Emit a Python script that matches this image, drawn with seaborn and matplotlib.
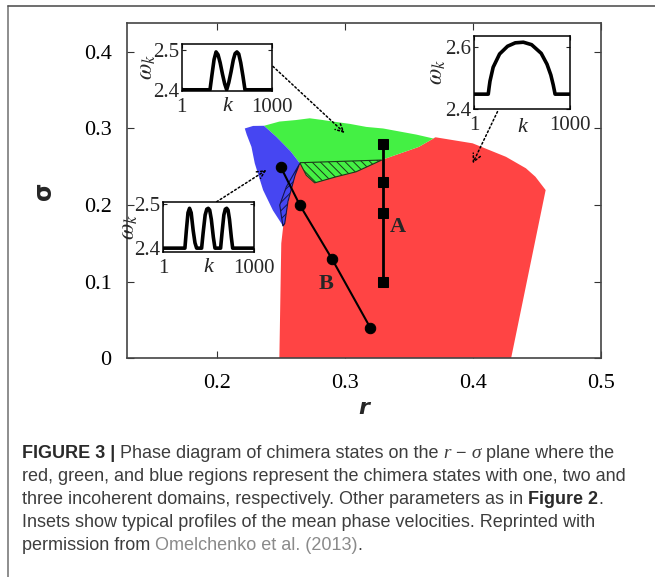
import numpy as np
import matplotlib
matplotlib.use('Agg')
from matplotlib import pyplot as plt
from matplotlib.lines import Line2D
import seaborn as sns

# regioes do diagrama de fases (r, sigma)
red_r = [0.249, 0.2505, 0.252, 0.256, 0.261, 0.266, 0.329, 0.358, 0.371, 0.400, 0.426, 0.4416, 0.449, 0.457, 0.430]
red_s = [0.0, 0.150, 0.172, 0.205, 0.240, 0.256, 0.259, 0.276, 0.2885, 0.2806, 0.263, 0.248, 0.237, 0.2196, 0.0]

green_r = [0.237, 0.249, 0.262, 0.2727, 0.283, 0.291, 0.304, 0.317, 0.330, 0.343, 0.356, 0.369, 0.371,
           0.358, 0.329, 0.265, 0.258, 0.2467]
green_s = [0.3035, 0.309, 0.311, 0.3133, 0.311, 0.309, 0.306, 0.302, 0.300, 0.296, 0.292, 0.287, 0.2885,
           0.276, 0.259, 0.2545, 0.2697, 0.289]

blue_r = [0.222, 0.2285, 0.237, 0.2467, 0.258, 0.265, 0.2613, 0.2557, 0.2532, 0.2518, 0.2506, 0.244,
          0.2363, 0.2298, 0.2272, 0.2235]
blue_s = [0.300, 0.3033, 0.3035, 0.289, 0.2697, 0.2545, 0.239, 0.2044, 0.176, 0.1725, 0.176, 0.193,
          0.2196, 0.2545, 0.276, 0.292]

green_hatch_r = [0.265, 0.329, 0.309, 0.2935, 0.2766, 0.270, 0.266]
green_hatch_s = [0.2553, 0.2588, 0.2435, 0.237, 0.229, 0.239, 0.252]

blue_hatch_r = [0.265, 0.2613, 0.2557, 0.2532, 0.2518, 0.2493, 0.2545]
blue_hatch_s = [0.2545, 0.239, 0.2044, 0.176, 0.1725, 0.200, 0.224]

# trajetorias A e B
line_a_r = [0.33, 0.33, 0.33, 0.33]
line_a_s = [0.28, 0.23, 0.19, 0.10]
line_b_r = [0.250, 0.265, 0.290, 0.320]
line_b_s = [0.250, 0.200, 0.130, 0.040]

# perfis dos insets (k, omega_k)
k_two = [1, 313, 335, 358, 380, 402, 425, 450, 475, 497, 520, 545, 570, 590, 610, 630, 652, 676, 699, 1000]
w_two = [2.4, 2.4, 2.438, 2.476, 2.495, 2.488, 2.468, 2.44, 2.415, 2.4, 2.418, 2.445, 2.475, 2.491, 2.495,
         2.49, 2.468, 2.435, 2.4, 2.4]
k_three = [1, 239, 255, 273, 290, 308, 330, 350, 368, 423, 440, 462, 480, 496, 512, 530, 552, 570,
           632, 648, 668, 684, 699, 714, 730, 750, 765, 1000]
w_three = [2.4, 2.4, 2.44, 2.48, 2.49, 2.48, 2.44, 2.412, 2.4, 2.4, 2.435, 2.475, 2.488, 2.49, 2.486, 2.465,
           2.425, 2.4, 2.4, 2.435, 2.475, 2.488, 2.49, 2.486, 2.465, 2.425, 2.4, 2.4]
k_one = [1, 149, 158, 167, 200, 267, 350, 430, 514, 600, 700, 760, 800, 825, 838, 844, 1000]
w_one = [2.448, 2.448, 2.47, 2.49, 2.535, 2.578, 2.603, 2.614, 2.616, 2.608, 2.58, 2.545, 2.51, 2.478,
         2.458, 2.448, 2.448]

x_ticks = [0.2, 0.3, 0.4, 0.5]
y_ticks = [0, 0.1, 0.2, 0.3, 0.4]

sns.set_style('ticks')
plt.rcParams['font.family'] = ['Liberation Serif', 'DejaVu Serif']
plt.rcParams['mathtext.fontset'] = 'stix'
plt.rcParams['hatch.linewidth'] = 0.7

fig = plt.figure(figsize=(6.55, 5.77), dpi=100)
ax = fig.add_axes([0.1939, 0.379, 0.7232, 0.5816])

ax.fill(red_r, red_s, color='#ff4444', lw=0, zorder=1)
ax.fill(green_r, green_s, color='#44f044', lw=0, zorder=1)
ax.fill(blue_r, blue_s, color='#4646f2', lw=0, zorder=1)
ax.fill(green_hatch_r, green_hatch_s, facecolor='#44f044', edgecolor='#1a3a1a', hatch='\\\\\\\\', lw=0.8, zorder=2)
ax.fill(blue_hatch_r, blue_hatch_s, facecolor='#4646f2', edgecolor='#15154a', hatch='////', lw=0.8, zorder=2)

sns.lineplot(x=line_a_r, y=line_a_s, ax=ax, estimator=None, sort=False, color='black', lw=2,
             marker='s', markersize=7, markeredgecolor='black', zorder=4)
sns.lineplot(x=line_b_r, y=line_b_s, ax=ax, estimator=None, sort=False, color='black', lw=1.5,
             marker='o', markersize=7.5, markeredgecolor='black', zorder=4)
ax.text(0.3416, 0.1716, 'A', fontsize=16, fontweight='bold', ha='center', va='center', zorder=5)
ax.text(0.2857, 0.0976, 'B', fontsize=16, fontweight='bold', ha='center', va='center', zorder=5)

ax.set_xlim(0.13, 0.5)
ax.set_ylim(0, 0.438)
ax.set_xticks(x_ticks)
ax.set_xticklabels(['0.2', '0.3', '0.4', '0.5'])
ax.set_yticks(y_ticks)
ax.set_yticklabels(['0', '0.1', '0.2', '0.3', '0.4'])
ax.tick_params(direction='in', top=True, right=True, length=5, width=0.8, labelsize=16, pad=11,
               colors='#333333', labelcolor='black')
for sp in ax.spines.values():
    sp.set_color('#444444')
    sp.set_linewidth(1.2)
ax.set_xlabel('r', fontsize=16, fontweight='bold', style='italic', family='DejaVu Sans', labelpad=4)
ax.set_ylabel('σ', fontsize=17, fontweight='bold', family='DejaVu Sans', labelpad=20)

# setas pontilhadas
arrow_kw = dict(arrowstyle='->', linestyle=(0, (1.2, 1.6)), lw=1.1, color='black',
                shrinkA=0, shrinkB=0, mutation_scale=14)
ax.annotate('', xy=(0.300, 0.294), xytext=(0.244, 0.381), arrowprops=arrow_kw, zorder=6)
ax.annotate('', xy=(0.2389, 0.2458), xytext=(0.200, 0.2043), arrowprops=arrow_kw, zorder=6)
ax.annotate('', xy=(0.400, 0.2545), xytext=(0.4194, 0.322), arrowprops=arrow_kw, zorder=6)


def inset(rect, k, w, ylim, yt, ylab, ylab_x):
    a = fig.add_axes(rect)
    a.set_facecolor('white')
    sns.lineplot(x=k, y=w, ax=a, estimator=None, sort=False, color='black', lw=2.6)
    a.set_xlim(1, 1000)
    a.set_ylim(*ylim)
    a.set_xticks([1, 1000])
    a.set_xticklabels(['1', '1000'])
    a.set_yticks(yt)
    a.set_yticklabels(ylab)
    a.tick_params(direction='in', top=True, right=True, length=3, width=0.8, labelsize=15)
    a.tick_params(axis='x', pad=5)
    a.tick_params(axis='y', pad=2)
    for sp in a.spines.values():
        sp.set_color('black')
        sp.set_linewidth(1.1)
    a.set_xlabel('k', fontsize=16, style='italic')
    a.xaxis.set_label_coords(0.5, -0.12)
    a.xaxis.label.set_va('top')
    a.set_ylabel(r'$\omega_k$', fontsize=17)
    a.yaxis.set_label_coords(ylab_x, 0.5)
    return a


ax1 = inset([0.2774, 0.8423, 0.1383, 0.0815], k_two, w_two, (2.397, 2.515), [2.4, 2.5], ['2.4', '2.5'], -0.26)
ax2 = inset([0.2493, 0.5638, 0.1385, 0.0867], k_three, w_three, (2.392, 2.505), [2.4, 2.5], ['2.4', '2.5'], -0.26)
ax3 = inset([0.7237, 0.8111, 0.1466, 0.127], k_one, w_one, (2.4, 2.637), [2.4, 2.6], ['2.4', '2.6'], -0.27)

# moldura cinza
fig.add_artist(Line2D([8 / 655, 8 / 655], [0, 1 - 6 / 577], color='#7a7a7a', lw=1.2))
fig.add_artist(Line2D([8 / 655, 1], [1 - 6 / 577, 1 - 6 / 577], color='#555555', lw=1.2))

# legenda da figura
renderer = fig.canvas.get_renderer()
cap = dict(family=['Liberation Sans', 'DejaVu Sans'], fontsize=13.0, color='#3d3d3d', va='center')
ser = dict(family=['Liberation Serif', 'DejaVu Serif'], style='italic', fontsize=14, color='#3d3d3d',
           va='center')
lines = [
    [('FIGURE 3 |', dict(cap, fontweight='bold', color='#2a2a2a')),
     (' Phase diagram of chimera states on the', cap), (' r', ser), (' −', cap), (' σ', ser),
     (' plane where the', cap)],
    [('red, green, and blue regions represent the chimera states with one, two and', cap)],
    [('three incoherent domains, respectively. Other parameters as in', cap),
     (' Figure 2', dict(cap, fontweight='bold', color='#2a2a2a')), ('.', cap)],
    [('Insets show typical profiles of the mean phase velocities. Reprinted with', cap)],
    [('permission from', cap), (' Omelchenko et al. (2013)', dict(cap, color='#8a8a8a')), ('.', cap)],
]
line_y = [453, 476.5, 499.5, 522.5, 545.5]
for yy, pieces in zip(line_y, lines):
    x = 22 / 655
    for txt, kw in pieces:
        t = fig.text(x, 1 - yy / 577, txt, ha='left', **kw)
        x += t.get_window_extent(renderer).width / 655

fig.savefig('out.png', dpi=100)
